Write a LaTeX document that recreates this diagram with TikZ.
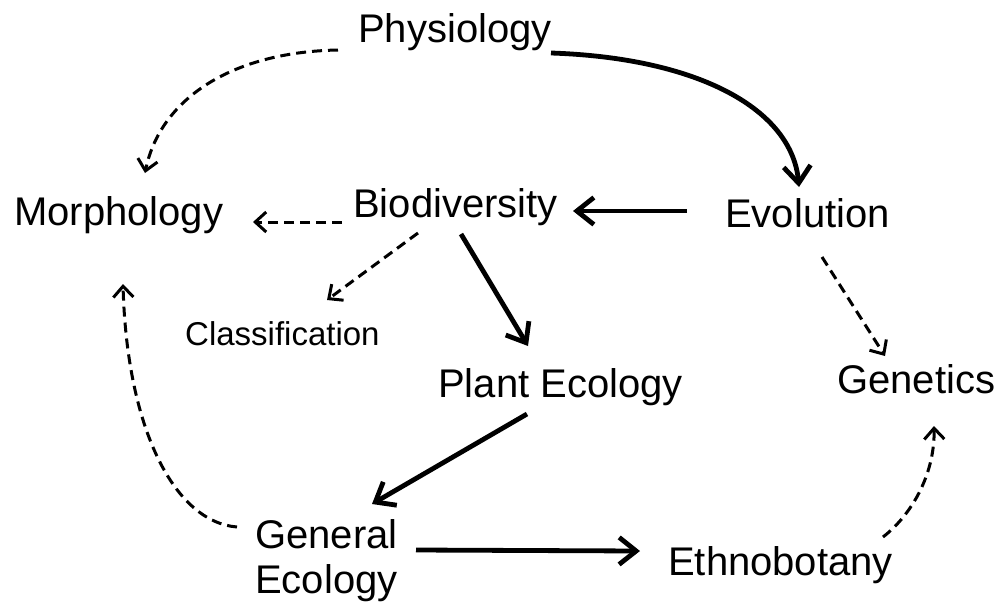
\documentclass[tikz,border=0pt]{standalone}
\usepackage{fontspec}
\setmainfont{Liberation Sans}
\usetikzlibrary{arrows.meta,calc}
\begin{document}
\begin{tikzpicture}[x=1pt,y=-1pt,
  lbl/.style={anchor=base west,inner sep=0pt,font=\fontsize{40}{45}\selectfont},
  small/.style={anchor=base west,inner sep=0pt,font=\fontsize{33}{38}\selectfont},
  solidarr/.style={line width=4.8pt,-{Straight Barb[length=17pt,width=27pt,line width=4.8pt]}},
  dasharr/.style={line width=3pt,dash pattern=on 10pt off 6pt,-{Straight Barb[length=11pt,width=20pt,line width=3pt]}}]
\useasboundingbox (0,0) rectangle (999,606);
\node[lbl] (phys) at (358,42) {Physiology};
\node[lbl] (morph) at (14,225) {Morphology};
\node[lbl] (bio) at (353,217) {Biodiversity};
\node[lbl] (evol) at (725,227) {Evolution};
\node[small] (class) at (185,345) {Classification};
\node[lbl] (plant) at (438,397) {Plant Ecology};
\node[lbl] (genet) at (837,393) {Genetics};
\node[lbl] (gen) at (255,548) {\begin{tabular}[t]{@{}l@{}}General\\Ecology\end{tabular}};
\node[lbl] (ethno) at (668,575) {Ethnobotany};
% connectors
\draw[dasharr] ($(phys.base west)+(-20,8)$) .. controls (230,52) and (160,100) .. ($(morph.base west)+(131,-52)$);
\draw[solidarr] ($(phys.base west)+(193,11)$) .. controls (700,58) and (792,110) .. ($(evol.base west)+(74,-40)$);
\draw[solidarr] ($(evol.base west)+(-38,-16)$) -- ($(bio.base west)+(220,-6)$);
\draw[dasharr] ($(bio.base west)+(-11,5)$) -- ($(morph.base west)+(239,-3)$);
\draw[dasharr] ($(bio.base west)+(65,16)$) -- ($(class.base west)+(142,-45)$);
\draw[solidarr] ($(bio.base west)+(108,17)$) -- ($(plant.base west)+(90,-51)$);
\draw[solidarr] ($(plant.base west)+(89,17)$) -- ($(gen.base west)+(117,-44)$);
\draw[solidarr] ($(gen.base west)+(161,2)$) -- ($(ethno.base west)+(-28,-24)$);
\draw[dasharr] ($(evol.base west)+(97,30)$) -- ($(genet.base west)+(48,-37)$);
\draw[dasharr] ($(ethno.base west)+(215,-38)$) .. controls (915,512) and (935,470) .. ($(genet.base west)+(97,33)$);
\draw[dasharr] ($(gen.base west)+(-18,-21)$) .. controls (175,522) and (127,430) .. ($(morph.base west)+(109,59)$);
\end{tikzpicture}
\end{document}
